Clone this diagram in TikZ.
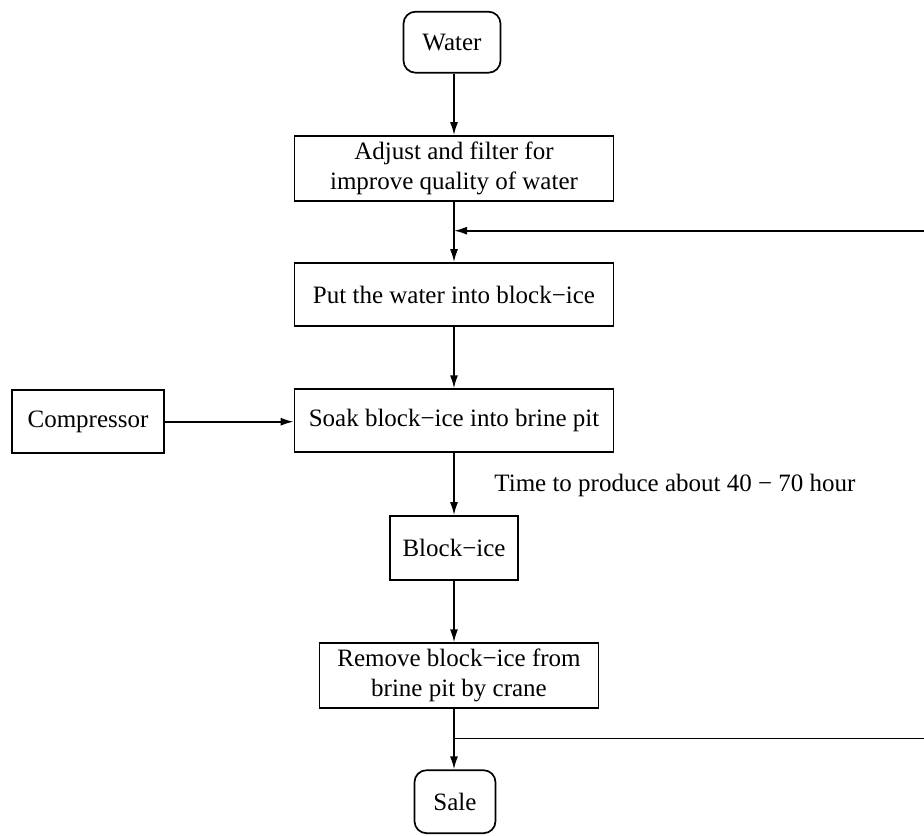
\documentclass[tikz,border=0pt]{standalone}
\usepackage{fontspec}
\setmainfont{Liberation Serif}
\usetikzlibrary{arrows.meta}
\begin{document}
\begin{tikzpicture}[x=0.5pt,y=-0.5pt,
  box/.style={draw, line width=0.85pt, inner sep=0pt, align=center, font=\fontsize{12.5}{15}\selectfont},
  rbox/.style={box, rounded corners=6pt},
  flow/.style={line width=0.85pt, -{Latex[length=6.5pt,width=4pt]}},
  plainline/.style={line width=0.85pt},
  lbl/.style={inner sep=0pt, font=\fontsize{12.5}{15}\selectfont}]
\useasboundingbox (0,0) rectangle (924,835);
\node[rbox, minimum width=48.5pt, minimum height=30.5pt] (water) at (452,42.2) {Water};
\node[box, minimum width=159.5pt, minimum height=32.5pt] (adjust) at (454,168.5) {Adjust and filter for\\improve quality of water};
\node[box, minimum width=159.5pt, minimum height=31.5pt] (put) at (454,294.5) {Put the water into block−ice};
\node[box, minimum width=159.5pt, minimum height=31.5pt] (soak) at (454,420.7) {Soak block−ice into brine pit};
\node[box, minimum width=76pt, minimum height=31.5pt] (comp) at (88,421.7) {Compressor};
\node[lbl, anchor=west] (time) at (494,485) {Time to produce about 40 − 70 hour};
\node[box, minimum width=64pt, minimum height=32pt] (block) at (454,548) {Block−ice};
\node[box, minimum width=139.5pt, minimum height=32.5pt] (remove) at (459,675.7) {Remove block−ice from\\brine pit by crane};
\node[rbox, minimum width=40.5pt, minimum height=31.5pt] (sale) at (455,801.7) {Sale};
\coordinate (fbR) at (924,230.7);
\coordinate (brR) at (924,738.5);
\draw[flow] (water.south -| adjust.north) -- (adjust.north);
\draw[flow] (adjust.south) -- (put.north);
\draw[flow] (fbR) -- (fbR -| adjust.south);
\draw[flow] (put.south) -- (soak.north);
\draw[flow] (comp.east) -- (comp.east -| soak.west);
\draw[flow] (soak.south) -- (block.north);
\draw[flow] (block.south) -- (block.south |- remove.north);
\draw[flow] (remove.south -| block.south) -- (block.south |- sale.north);
\draw[plainline] (brR -| block.south) -- (brR);
\end{tikzpicture}
\end{document}
